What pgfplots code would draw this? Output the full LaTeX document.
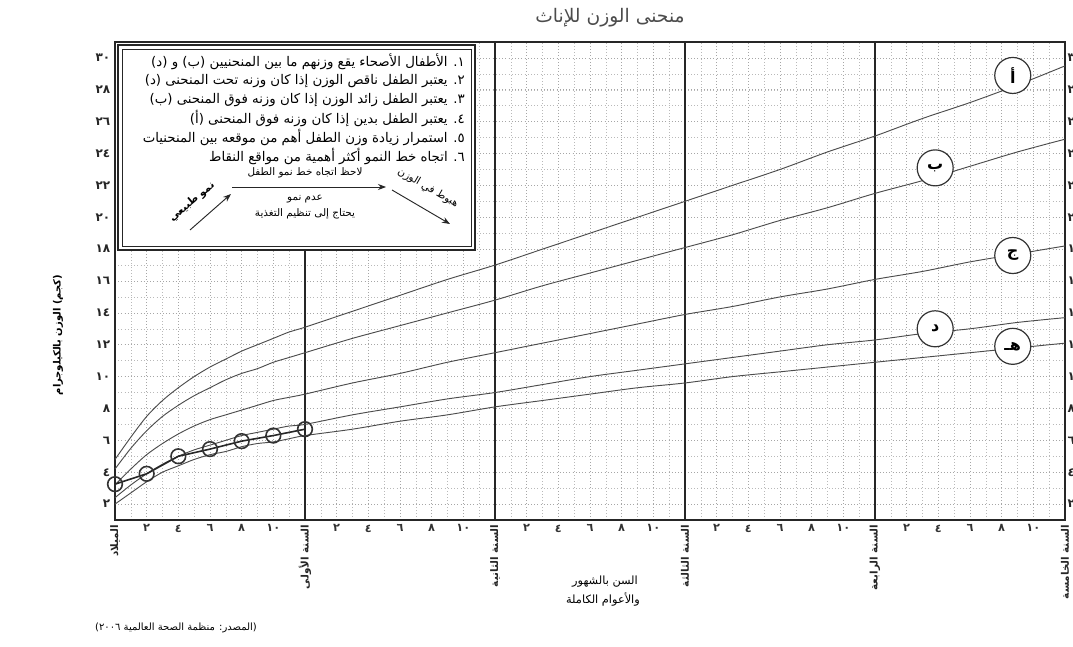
\documentclass[border=0pt]{standalone}
\usepackage{pgfplots}
\pgfplotsset{compat=1.18}
\usepackage{pgfplotstable}
\usepackage{fontspec}
\setmainfont{DejaVu Sans}
\newfontfamily\arabicfont[Script=Arabic]{DejaVu Sans}
\newfontfamily\arnum{DejaVu Sans}
\TeXXeTstate=1
\newcommand{\AR}[1]{{\arabicfont\beginR #1\endR}}
\usetikzlibrary{arrows.meta}

% WHO weight-for-age, girls (kg): -3SD, -2SD, median, +2SD, +3SD
\pgfplotstableread{
m  sm3  sm2  med  sp2  sp3
0  2.0  2.4  3.2  4.2  4.8
1  2.7  3.2  4.2  5.5  6.2
2  3.4  3.9  5.1  6.6  7.5
3  4.0  4.5  5.8  7.5  8.5
4  4.4  5.0  6.4  8.2  9.3
5  4.8  5.4  6.9  8.8  10.0
6  5.1  5.7  7.3  9.3  10.6
7  5.3  6.0  7.6  9.8  11.1
8  5.6  6.3  7.9  10.2 11.6
9  5.8  6.5  8.2  10.5 12.0
10 5.9  6.7  8.5  10.9 12.4
11 6.1  6.9  8.7  11.2 12.8
12 6.3  7.0  8.9  11.5 13.1
15 6.7  7.6  9.6  12.4 14.1
18 7.2  8.1  10.2 13.2 15.1
21 7.6  8.6  10.9 14.0 16.1
24 8.1  9.0  11.5 14.8 17.0
27 8.5  9.5  12.1 15.7 18.0
30 8.9  10.0 12.7 16.5 19.0
33 9.3  10.4 13.3 17.3 20.0
36 9.6  10.8 13.9 18.1 21.0
39 10.0 11.2 14.4 18.9 22.0
42 10.3 11.6 15.0 19.8 23.0
45 10.6 12.0 15.5 20.6 24.1
48 10.9 12.3 16.1 21.5 25.1
51 11.2 12.7 16.6 22.3 26.2
54 11.5 13.0 17.2 23.2 27.2
57 11.8 13.4 17.7 24.1 28.3
60 12.1 13.7 18.2 24.9 29.5
}\who

\pgfplotstableread{
m  w
0  3.25
2  3.9
4  5.0
6  5.45
8  5.95
10 6.3
12 6.7
}\child

\begin{document}
\begin{tikzpicture}
\begin{axis}[
  scale only axis, width=712.5pt, height=358.5pt,
  xmin=0, xmax=60, ymin=1, ymax=31,
  xtick={2,4,6,8,10,14,16,18,20,22,26,28,30,32,34,38,40,42,44,46,50,52,54,56,58},
  xticklabels={٢,٤,٦,٨,١٠,٢,٤,٦,٨,١٠,٢,٤,٦,٨,١٠,٢,٤,٦,٨,١٠,٢,٤,٦,٨,١٠},
  ytick={2,4,...,30},
  yticklabels={٢,٤,٦,٨,١٠,١٢,١٤,١٦,١٨,٢٠,٢٢,٢٤,٢٦,٢٨,٣٠},
  minor xtick={0,1,...,60},
  minor ytick={1,2,...,31},
  grid=both,
  major grid style={gray!70, dotted, line width=0.5pt},
  minor grid style={gray!55, dotted, line width=0.4pt},
  major tick length=0pt, minor tick length=0pt,
  xticklabel style={font=\arnum\bfseries\fontsize{8.5}{9}\selectfont, text=black!80},
  yticklabel style={font=\arnum\bfseries\fontsize{9}{9}\selectfont, text=black!85},
  extra x ticks={0,12,24,36,48,60},
  extra x tick labels={{\AR{الميلاد}},{\AR{السنة الأولى}},{\AR{السنة الثانية}},{\AR{السنة الثالثة}},{\AR{السنة الرابعة}},{\AR{السنة الخامسة}}},
  extra x tick style={grid=major, major grid style={black!85, solid, line width=1.3pt},
    xticklabel style={rotate=90, anchor=east, font=\bfseries\fontsize{7.8}{8}\selectfont, text=black!85}},
  axis line style={black!85, line width=1pt},
  clip=false,
]
\addplot[black!70, line width=0.7pt, smooth, tension=0.5] table[x=m, y=sp3] {\who};
\addplot[black!70, line width=0.7pt, smooth, tension=0.5] table[x=m, y=sp2] {\who};
\addplot[black!70, line width=0.7pt, smooth, tension=0.5] table[x=m, y=med] {\who};
\addplot[black!70, line width=0.7pt, smooth, tension=0.5] table[x=m, y=sm2] {\who};
\addplot[black!70, line width=0.7pt, smooth, tension=0.5] table[x=m, y=sm3] {\who};
\addplot[black!85, line width=1.2pt, mark=o, mark size=5.5pt,
  mark options={line width=1.2pt, draw=black!80, fill=black!15}] table[x=m, y=w] {\child};

\tikzset{lab/.style={circle, draw=black!80, line width=0.9pt, fill=white,
  minimum size=27pt, inner sep=0pt, font=\arabicfont\bfseries\fontsize{12}{12}\selectfont}}
\node[lab] at (axis cs:56.7,28.9) {أ};
\node[lab] at (axis cs:51.8,23.1) {ب};
\node[lab] at (axis cs:56.7,17.6) {ج};
\node[lab] at (axis cs:51.8,13.0) {د};
\node[lab] at (axis cs:56.7,11.9) {هـ};
\end{axis}

\begin{axis}[
  scale only axis, width=712.5pt, height=358.5pt,
  xmin=0, xmax=60, ymin=1, ymax=31,
  hide x axis, axis y line*=right, y axis line style={draw=none},
  ytick={2,4,...,30},
  yticklabels={٢,٤,٦,٨,١٠,١٢,١٤,١٦,١٨,٢٠,٢٢,٢٤,٢٦,٢٨,٣٠},
  major tick length=0pt,
  yticklabel style={font=\arnum\bfseries\fontsize{9}{9}\selectfont, text=black!85, xshift=-1.5pt},
]
\addplot[draw=none] coordinates {(0,1)};
\end{axis}

\begin{scope}[x=0.75pt, y=-0.75pt, shift={(-86.25pt,390pt)}]
  % title
  \node[font=\fontsize{14}{14}\selectfont, text=black!70] at (610,18) {\AR{منحنى الوزن للإناث}};
  % legend box
  \fill[white] (116.5,43.5) rectangle (476.5,251.5);
  \draw[black!85, line width=1.3pt] (118,45) rectangle (475,250);
  \draw[black!85, line width=0.5pt] (122,49) rectangle (471,246);
  \begin{scope}[every node/.style={anchor=east, font=\fontsize{10}{10}\selectfont, inner sep=0pt}]
    \node at (465,62)  {\AR{١. الأطفال الأصحاء يقع وزنهم ما بين المنحنيين (ب) و (د)}};
    \node at (465,81)  {\AR{٢. يعتبر الطفل ناقص الوزن إذا كان وزنه تحت المنحنى (د)}};
    \node at (465,100) {\AR{٣. يعتبر الطفل زائد الوزن إذا كان وزنه فوق المنحنى (ب)}};
    \node at (465,118) {\AR{٤. يعتبر الطفل بدين إذا كان وزنه فوق المنحنى (أ)}};
    \node at (465,137) {\AR{٥. استمرار زيادة وزن الطفل أهم من موقعه بين المنحنيات}};
    \node at (465,156) {\AR{٦. اتجاه خط النمو أكثر أهمية من مواقع النقاط}};
  \end{scope}
  \begin{scope}[every node/.style={font=\fontsize{7.8}{8}\selectfont, inner sep=0pt}]
    \node at (305,173) {\AR{لاحظ اتجاه خط نمو الطفل}};
    \node at (305,199) {\AR{عدم نمو}};
    \node at (305,214) {\AR{يحتاج إلى تنظيم التغذية}};
    \node[rotate=40, font=\bfseries\fontsize{7.8}{8}\selectfont] at (192,202) {\AR{نمو طبيعي}};
    \node[rotate=-30] at (428,188) {\AR{هبوط في الوزن}};
  \end{scope}
  \draw[black!85, line width=0.7pt, -{Stealth[length=6pt]}] (190,230) -- (231,194);
  \draw[black!85, line width=0.7pt, -{Stealth[length=6pt]}] (232,187) -- (386,187);
  \draw[black!85, line width=0.7pt, -{Stealth[length=6pt]}] (392,190) -- (450,224);
  % axis labels
  \node[font=\fontsize{8.5}{9}\selectfont] at (605,582) {\AR{السن بالشهور}};
  \node[font=\fontsize{8.5}{9}\selectfont] at (603,599) {\AR{والأعوام الكاملة}};
  \node[rotate=90, font=\bfseries\fontsize{7.5}{8}\selectfont] at (58,335) {\AR{(كجم) الوزن بالكيلوجرام}};
  % source
  \node[font=\fontsize{7.5}{8}\selectfont] at (176,628) {\AR{(المصدر: منظمة الصحة العالمية \beginL{\arnum ٢٠٠٦}\endL)}};
\end{scope}

\pgfresetboundingbox
\useasboundingbox (-86.25pt,-94.5pt) rectangle (718.5pt,390pt);
\end{tikzpicture}
\end{document}
